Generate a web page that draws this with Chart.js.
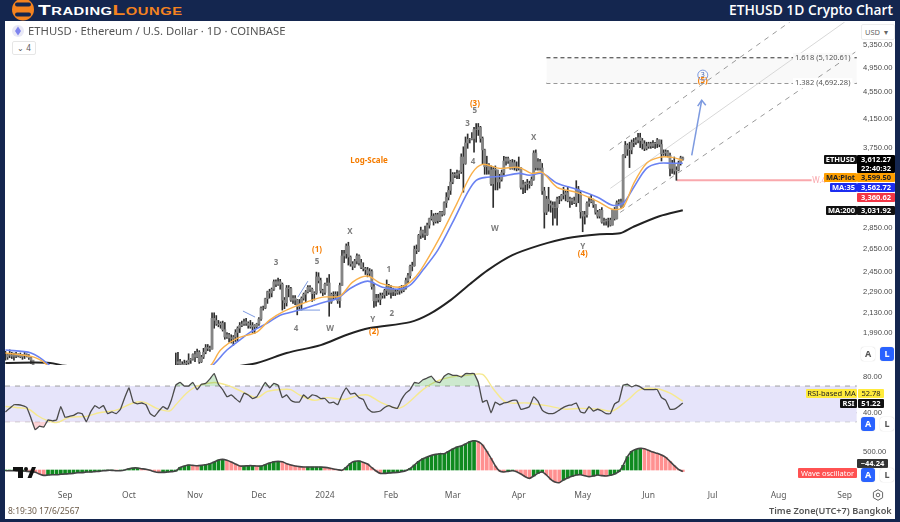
<!DOCTYPE html>
<html>
<head>
<meta charset="utf-8">
<title>ETHUSD 1D Crypto Chart</title>
<script src="https://cdn.jsdelivr.net/npm/chart.js@4/dist/chart.umd.js"></script>
<style>
html, body { margin: 0; padding: 0; }
body { width: 900px; height: 522px; background: #14264f; position: relative; overflow: hidden; font-family: "Open Sans", sans-serif; }
#panel { position: absolute; left: 5px; top: 21px; width: 890px; height: 498px; background: #fff; }
canvas { position: absolute; left: 5px; }
#priceCanvas { top: 22px; }
#rsiCanvas { top: 365px; }
#oscCanvas { top: 435px; }
.abs { position: absolute; white-space: nowrap; }
#brand { left: 38px; top: 0; font: bold 15.5px/19px "Liberation Sans", sans-serif; font-variant: small-caps; letter-spacing: .4px; color: #fff; transform: scaleX(1.34); transform-origin: left center; }
#brand span { color: #f5831f; }
#title { right: 7px; top: 0; font: 600 13.8px/20px "Open Sans", sans-serif; color: #fff; }
#symbol { left: 28px; top: 24px; font: 11.3px/14px "Noto Sans", sans-serif; color: #555; }
#folded { left: 12px; top: 41px; width: 22px; height: 12px; border: 1px solid #e6e6e6; border-radius: 2px; font: 8px/12px "Noto Sans", sans-serif; color: #555; text-align: center; background: #fff; }
#usd { left: 861px; top: 24px; width: 32px; height: 14px; border: 1px solid #ececec; border-radius: 2px; font: 7.5px/14px "Noto Sans", sans-serif; color: #666; background: #fff; text-indent: 3px; }
.tag { height: 9px; font: bold 7.5px/9px "Noto Sans", sans-serif; text-align: center; border-radius: 1px; }
.btn { width: 14px; height: 14px; border-radius: 3px; font: bold 9px/14px "Noto Sans", sans-serif; text-align: center; box-shadow: 0 0 1px #bbb; background: #fff; color: #555; }
.btn.on { background: #2962ff; color: #fff; }
#stamp { left: 8px; top: 504px; font: 8.5px/14px "Noto Sans", sans-serif; color: #6b5a48; }
#zone { left: 769px; top: 504px; font: 600 9.2px/14px "Noto Sans", sans-serif; color: #555; }
</style>
</head>
<body>
<div id="panel"></div>
<canvas id="priceCanvas" width="890" height="343"></canvas>
<canvas id="rsiCanvas" width="890" height="70"></canvas>
<canvas id="oscCanvas" width="890" height="70"></canvas>

<svg class="abs" style="left:11px;top:-2px" width="24" height="23" viewBox="0 0 24 23">
  <circle cx="12" cy="11.5" r="11" fill="#f5831f"/>
  <rect x="4" y="4.5" width="16" height="4" rx="2" fill="#14264f"/>
  <rect x="4" y="14.5" width="16" height="4" rx="2" fill="#14264f"/>
</svg>
<div class="abs" id="brand">Trading<span>Lounge</span></div>
<div class="abs" id="title">ETHUSD 1D Crypto Chart</div>

<svg class="abs" style="left:12px;top:25px" width="12" height="12" viewBox="0 0 12 12">
  <circle cx="6" cy="6" r="6" fill="#e9e9f6"/>
  <path d="M6 1.5L9 6 6 10.5 3 6z" fill="#7d83ee"/>
</svg>
<div class="abs" id="symbol">ETHUSD · Ethereum / U.S. Dollar · 1D · COINBASE</div>
<div class="abs" id="folded">⌄ 4</div>
<div class="abs" id="usd">USD &nbsp;▾</div>

<div class="abs tag" style="left:824px;top:155px;width:33px;background:#111;color:#fff">ETHUSD</div>
<div class="abs tag" style="left:857px;top:155px;width:38px;height:18px;background:#000;color:#fff">3,612.27<br>22:40:32</div>
<div class="abs tag" style="left:824px;top:173px;width:33px;background:#ffa000;color:#222">MA:Plot</div>
<div class="abs tag" style="left:857px;top:173px;width:38px;background:#ffa000;color:#222">3,599.50</div>
<div class="abs tag" style="left:830px;top:183px;width:27px;background:#1c2df0;color:#fff">MA:35</div>
<div class="abs tag" style="left:857px;top:183px;width:38px;background:#1c2df0;color:#fff">3,562.72</div>
<div class="abs tag" style="left:857px;top:193px;width:38px;background:#f23645;color:#fff">3,360.62</div>
<div class="abs tag" style="left:826px;top:206px;width:31px;background:#111;color:#fff">MA:200</div>
<div class="abs tag" style="left:857px;top:206px;width:38px;background:#111;color:#fff">3,031.92</div>

<div class="abs tag" style="left:806px;top:389px;width:51px;background:#ffeb3b;color:#222;font-weight:normal">RSI-based MA</div>
<div class="abs tag" style="left:858px;top:389px;width:26px;background:#ffeb3b;color:#222;font-weight:normal">52.78</div>
<div class="abs tag" style="left:840px;top:399px;width:17px;background:#111;color:#fff">RSI</div>
<div class="abs tag" style="left:858px;top:399px;width:26px;background:#111;color:#fff">51.22</div>
<div class="abs tag" style="left:857px;top:459px;width:31px;background:#333;color:#fff">−44.24</div>
<div class="abs tag" style="left:798px;top:468px;width:59px;height:10px;line-height:10px;background:#ff5252;color:#fff;font-weight:normal">Wave oscillator</div>

<div class="abs btn" style="left:861px;top:347px">A</div>
<div class="abs btn on" style="left:880px;top:347px">L</div>
<div class="abs btn on" style="left:861px;top:417px">A</div>
<div class="abs btn" style="left:880px;top:417px">L</div>
<div class="abs btn on" style="left:861px;top:468px">A</div>
<div class="abs btn" style="left:880px;top:468px">L</div>

<svg class="abs" style="left:13px;top:467px" width="23" height="11" viewBox="0 0 23 11">
  <path d="M0 0h10v11H5V4H0z" fill="#111"/>
  <circle cx="13" cy="2" r="2" fill="#111"/>
  <path d="M14.5 11L19 0h4l-4.5 11z" fill="#111"/>
</svg>
<svg class="abs" style="left:872px;top:489px" width="12" height="12" viewBox="0 0 12 12">
  <path d="M6 .7L10.6 3.3V8.7L6 11.3 1.4 8.7V3.3z" fill="none" stroke="#666" stroke-width="1"/>
  <circle cx="6" cy="6" r="1.8" fill="none" stroke="#666" stroke-width="1"/>
</svg>
<div class="abs" id="stamp">8:19:30 17/6/2567</div>
<div class="abs" id="zone">Time Zone(UTC+7) Bangkok</div>

<script>
// x is counted in days from 1 Sep 2023
const axisFirstDay = -28.2;
const axisLastDay = 373.2;
const monthDays = [0, 30, 61, 91, 122, 153, 182, 213, 243, 274, 304, 335, 366];
const monthLabels = ['Sep', 'Oct', 'Nov', 'Dec', '2024', 'Feb', 'Mar', 'Apr', 'May', 'Jun', 'Jul', 'Aug', 'Sep'];
const priceTicks = [5350, 4950, 4550, 4150, 3750, 2850, 2650, 2450, 2290, 2130, 1990];
const rsiTicks = [80, 40];
const oscTicks = [500];

// daily bars at the far left, before price leaves the pane
const earlyFirstDay = -28;
const earlyHigh = [1865, 1850, 1875, 1860, 1855, 1860, 1850, 1855, 1845, 1865, 1850, 1845, 1830, 1760];
const earlyLow = [1810, 1815, 1825, 1820, 1810, 1825, 1830, 1825, 1815, 1820, 1830, 1815, 1790, 1680];
const earlyClose = [1830, 1845, 1840, 1835, 1840, 1835, 1845, 1830, 1840, 1845, 1835, 1825, 1810, 1690];

// daily bars from 23 Oct 2023 to 17 Jun 2024
const barFirstDay = 52;
const barHigh = [
  1855, 1860, 1815, 1800, 1810, 1805, 1850, 1820, 1850, 1865,
  1880, 1870, 1840, 1885, 1910, 1910, 1900, 2130, 2130, 2110,
  2075, 2065, 2070, 2060, 1990, 1985, 1975, 1970, 2010, 2030,
  2060, 2070, 2085, 2090, 2065, 2075, 2060, 2045, 2055, 2095,
  2175, 2180, 2240, 2295, 2310, 2320, 2385, 2385, 2400, 2390,
  2360, 2245, 2340, 2340, 2325, 2260, 2260, 2230, 2230, 2250,
  2280, 2300, 2340, 2340, 2320, 2290, 2450, 2445, 2400, 2310,
  2360, 2400, 2430, 2280, 2290, 2290, 2290, 2360, 2640, 2640,
  2700, 2715, 2590, 2540, 2560, 2610, 2600, 2560, 2530, 2490,
  2490, 2480, 2470, 2350, 2270, 2270, 2280, 2280, 2310, 2385,
  2350, 2340, 2320, 2310, 2310, 2330, 2340, 2340, 2400, 2440,
  2510, 2535, 2680, 2690, 2790, 2860, 2830, 2870, 2900, 2950,
  3030, 2995, 3000, 3000, 3020, 3020, 3120, 3220, 3290, 3490,
  3450, 3450, 3480, 3470, 3680, 3770, 3900, 3940, 3880, 3960,
  4030, 4085, 4085, 4045, 3900, 3740, 3650, 3560, 3530, 3510,
  3530, 3480, 3430, 3480, 3650, 3640, 3640, 3600, 3610, 3600,
  3580, 3640, 3510, 3360, 3340, 3370, 3350, 3400, 3720, 3730,
  3620, 3610, 3560, 3280, 3180, 3280, 3130, 3120, 3120, 3170,
  3180, 3200, 3280, 3240, 3290, 3170, 3160, 3170, 3355, 3290,
  3230, 3020, 3020, 3120, 3170, 3200, 3150, 3090, 3030, 3040,
  3060, 2950, 2940, 2950, 2950, 3040, 3060, 3130, 3145, 3150,
  3670, 3840, 3810, 3830, 3860, 3880, 3890, 3950, 3950, 3880,
  3850, 3830, 3830, 3830, 3850, 3830, 3880, 3860, 3860, 3730,
  3730, 3720, 3690, 3600, 3640, 3520, 3590, 3650, 3640
];
const barLow = [
  1700, 1770, 1780, 1760, 1775, 1775, 1785, 1790, 1810, 1800,
  1825, 1790, 1795, 1820, 1850, 1870, 1865, 1880, 2020, 2040,
  2030, 2020, 2000, 1945, 1950, 1925, 1920, 1905, 1930, 1930,
  1990, 2030, 2040, 2040, 2020, 2020, 1990, 1985, 2020, 2040,
  2075, 2150, 2160, 2200, 2240, 2250, 2300, 2330, 2340, 2310,
  2150, 2160, 2180, 2250, 2215, 2200, 2190, 2115, 2150, 2150,
  2225, 2210, 2280, 2290, 2215, 2225, 2270, 2360, 2280, 2260,
  2270, 2340, 2105, 2200, 2230, 2230, 2200, 2170, 2340, 2530,
  2570, 2510, 2500, 2470, 2490, 2520, 2510, 2480, 2460, 2430,
  2410, 2420, 2310, 2170, 2180, 2210, 2190, 2240, 2240, 2260,
  2270, 2240, 2260, 2260, 2270, 2270, 2280, 2290, 2310, 2360,
  2400, 2460, 2500, 2610, 2630, 2750, 2760, 2740, 2780, 2850,
  2930, 2880, 2900, 2900, 2915, 2970, 2980, 3060, 3140, 3200,
  3320, 3390, 3380, 3380, 3440, 3225, 3550, 3750, 3820, 3860,
  3700, 3830, 3920, 3830, 3550, 3430, 3430, 3430, 3300, 3060,
  3250, 3250, 3270, 3350, 3420, 3540, 3560, 3490, 3490, 3480,
  3470, 3480, 3260, 3210, 3220, 3250, 3270, 3300, 3360, 3480,
  3480, 3480, 3200, 2850, 2985, 3020, 3010, 2880, 2950, 2880,
  3100, 3130, 3150, 3130, 3120, 3060, 3090, 3100, 3070, 3110,
  2950, 2815, 2890, 2960, 3070, 3110, 3060, 2990, 2950, 2950,
  2900, 2880, 2880, 2860, 2870, 2880, 2930, 2940, 3090, 3060,
  3060, 3630, 3660, 3510, 3680, 3770, 3800, 3820, 3760, 3740,
  3720, 3730, 3750, 3750, 3760, 3750, 3760, 3770, 3590, 3660,
  3650, 3640, 3410, 3440, 3430, 3360, 3470, 3540, 3600
];
const barClose = [
  1790, 1800, 1785, 1780, 1790, 1795, 1810, 1815, 1845, 1830,
  1860, 1800, 1830, 1860, 1890, 1885, 1880, 2090, 2075, 2050,
  2045, 2055, 2010, 1960, 1975, 1955, 1950, 1960, 1990, 2020,
  2040, 2050, 2065, 2055, 2040, 2030, 2040, 2030, 2050, 2085,
  2165, 2165, 2235, 2290, 2280, 2310, 2370, 2350, 2370, 2350,
  2225, 2205, 2320, 2315, 2225, 2240, 2225, 2175, 2200, 2240,
  2270, 2290, 2325, 2310, 2275, 2280, 2410, 2380, 2300, 2285,
  2350, 2360, 2210, 2270, 2270, 2250, 2220, 2340, 2590, 2610,
  2680, 2580, 2520, 2500, 2545, 2590, 2530, 2490, 2480, 2470,
  2440, 2455, 2330, 2220, 2240, 2230, 2260, 2265, 2300, 2330,
  2285, 2310, 2290, 2280, 2295, 2310, 2300, 2320, 2380, 2420,
  2500, 2505, 2650, 2640, 2780, 2825, 2800, 2785, 2880, 2945,
  2970, 2915, 2985, 2925, 3010, 2990, 3110, 3170, 3245, 3340,
  3430, 3420, 3440, 3460, 3640, 3560, 3820, 3870, 3870, 3880,
  4000, 4000, 4030, 3880, 3730, 3520, 3530, 3480, 3320, 3490,
  3480, 3340, 3370, 3450, 3590, 3620, 3590, 3500, 3570, 3510,
  3500, 3505, 3280, 3310, 3330, 3320, 3310, 3370, 3690, 3510,
  3580, 3505, 3240, 3010, 3150, 3100, 3085, 3060, 3060, 3150,
  3150, 3190, 3200, 3220, 3130, 3150, 3130, 3110, 3260, 3210,
  3015, 2970, 2985, 3105, 3120, 3135, 3090, 3010, 2970, 3030,
  2910, 2920, 2930, 2930, 2880, 3030, 2945, 3110, 3120, 3070,
  3660, 3790, 3740, 3730, 3825, 3830, 3860, 3890, 3850, 3810,
  3750, 3775, 3810, 3780, 3815, 3810, 3860, 3800, 3680, 3690,
  3705, 3660, 3500, 3560, 3470, 3480, 3565, 3630, 3612
];

const maPlotDays = [-28, -15, -9, 0, 40, 60, 68.5, 73, 81, 90, 96, 102, 112, 121, 129, 135, 142, 148, 157, 162, 167, 176, 184, 191, 196, 204, 213, 219, 224, 231, 240, 250, 257, 262, 267, 273, 279, 285, 290];
const maPlotValues = [1855, 1830, 1786, 1660, 1590, 1700, 1780, 1874, 1952, 1993, 2077, 2135, 2202, 2248, 2256, 2367, 2417, 2359, 2326, 2367, 2467, 2763, 3104, 3441, 3549, 3501, 3513, 3441, 3453, 3280, 3224, 3126, 3041, 3062, 3326, 3562, 3636, 3636, 3599];
const ma35Days = [-28, -16, -8, 0, 40, 60, 69, 76, 82, 87, 95, 101, 110, 120, 128, 134, 142, 149, 157, 162, 168, 175, 182, 189, 193, 198, 205, 213, 218, 224, 231, 240, 250, 257, 262, 267, 273, 279, 285, 290];
const ma35Values = [1874, 1855, 1786, 1680, 1600, 1700, 1775, 1874, 1939, 1993, 2056, 2113, 2150, 2202, 2240, 2318, 2375, 2326, 2311, 2342, 2467, 2642, 2909, 3224, 3360, 3395, 3406, 3441, 3418, 3441, 3326, 3258, 3170, 3083, 3105, 3280, 3501, 3562, 3562, 3562];
const ma200Days = [-28, -7, 0, 50, 88, 104, 120, 132, 143, 162, 171, 181, 190, 198.5, 210, 223, 235.5, 251, 260.5, 266.5, 279, 290];
const ma200Values = [1793, 1793, 1775, 1740, 1786, 1855, 1906, 1973, 2021, 2063, 2120, 2225, 2350, 2467, 2597, 2688, 2753, 2791, 2800, 2860, 2969, 3031];

// channel, fib and hand drawn lines
const channelUpperDays = [255.7, 340.2];
const channelUpperValues = [3725, 5791];
const channelMiddleDays = [256, 366];
const channelMiddleValues = [3268, 5791];
const channelLowerDays = [256.7, 371];
const channelLowerValues = [2950, 5222];
const fibDays = [226, 371.7];
const fibLevels = [5120.61, 4692.28];
const fibRatios = ['1.618', '1.382'];
const fibLabelDay = 355.7;
const wLevelDays = [287.2, 350.5];
const wLevelValue = 3360.62;
const arrowShaftDays = [294.2, 298.9];
const arrowShaftValues = [3661, 4425];
const arrowHeadDays = [297, 298.9, 300.8];
const arrowHeadValues = [4335, 4425, 4350];
const sketchDaysA = [83.5, 89.2];
const sketchValuesA = [2143, 2099];
const sketchDaysB = [109.3, 114];
const sketchValuesB = [2248, 2375];
const sketchDaysC = [109.3, 119.7];
const sketchValuesC = [2150, 2150];

const waveTexts = ['(1)', '(2)', '(3)', '(4)', '(5)'];
const waveDays = [118.3, 145, 192.4, 243, 299.4];
const wavePrices = [2642, 1993, 4366, 2606, 4725];
const subWaveTexts = ['3', '5', 'X', '1', '4', 'W', 'Y', '2', '5', '3', '4', 'W', 'X', 'Y'];
const subWaveDays = [99, 118.3, 133.7, 152, 108.4, 124.4, 144.5, 153.4, 192.4, 189, 191.5, 201.8, 220, 243];
const subWavePrices = [2527, 2535, 2811, 2467, 2020, 2014, 2077, 2123, 4262, 4076, 3581, 2840, 3896, 2670];
const circledDay = 299.4;
const circledPrice = 4824;
const circledText = '3';
const scaleNoteDay = 142.7;
const scaleNotePrice = 3599;

// RSI and wave oscillator, one reading every two days from the left edge
const seriesFirstDay = -28;
const seriesStep = 2;
const rsiValues = [
  41, 45, 49, 49, 48, 46, 34, 21, 25, 24, 32, 31, 32, 47, 35, 36, 37, 40, 39, 30,
  41, 48, 45, 48, 39, 41, 39, 44, 57, 68, 52, 50, 51, 49, 39, 36, 42, 47, 44, 55,
  71, 74, 70, 70, 74, 66, 72, 73, 78, 84, 72, 66, 58, 60, 56, 52, 62, 60, 56, 58,
  66, 74, 68, 73, 71, 57, 60, 54, 52, 52, 60, 56, 60, 59, 56, 56, 51, 52, 49, 60,
  68, 61, 62, 57, 55, 45, 41, 41, 42, 46, 48, 46, 45, 55, 62, 66, 74, 73, 77, 79,
  81, 75, 74, 81, 84, 82, 82, 80, 84, 84, 84, 74, 52, 54, 40, 52, 49, 51, 52, 54,
  54, 44, 45, 47, 58, 53, 43, 40, 39, 40, 43, 46, 48, 49, 51, 41, 40, 47, 42, 44,
  42, 39, 39, 50, 53, 71, 72, 69, 71, 69, 66, 66, 66, 66, 57, 54, 44, 44, 47, 51
];
const rsiMaDays = [-28, -23, -17, -13, -9, -4, 2, 10, 16, 24, 32, 37, 43, 49, 52, 57, 62, 70, 76, 82, 90, 95, 101, 106, 110, 117, 123, 131, 137, 142, 148, 156, 160, 168, 174, 181, 189, 196, 201, 207, 217, 226, 235, 242, 251, 257, 264, 270, 278, 284, 290];
const rsiMaValues = [47, 46, 44, 37, 32, 29, 35, 36, 40, 43, 51, 52, 45, 42, 49, 62, 70, 74, 71, 65, 57, 64, 66, 66, 60, 54, 57, 55, 59, 60, 52, 45, 49, 66, 75, 80, 82, 83, 67, 52, 51, 48, 44, 45, 44, 42, 54, 66, 67, 62, 53];
const rsiLevels = [70, 60, 50, 40, 30];
const rsiBandDays = [-28.2, 371.7];
const oscValues = [
  -19, -19, -19, -28, -28, -37, -46, -65, -111, -148, -139, -130, -130, -120, -111, -102, -93, -74, -74, -56,
  -56, -46, -37, -19, -9, -9, -19, -19, 0, 37, 56, 56, 37, 19, -9, -46, -65, -65, -56, -46,
  -28, 74, 111, 139, 130, 120, 130, 148, 176, 222, 278, 296, 269, 222, 167, 111, 111, 120, 120, 111,
  111, 148, 194, 232, 241, 232, 176, 139, 111, 93, 83, 83, 83, 83, 83, 74, 56, 28, 9, -9,
  74, 185, 241, 250, 213, 167, 65, -28, -93, -93, -83, -74, -65, -46, -19, 46, 139, 241, 315, 361,
  407, 435, 454, 454, 519, 583, 639, 667, 722, 787, 815, 787, 695, 519, 324, 111, -28, -56, -37, -19,
  -46, -111, -185, -232, -167, -93, -56, -139, -259, -333, -352, -278, -222, -176, -139, -130, -157, -185, -167, -139,
  -157, -167, -148, -111, -46, 130, 370, 519, 574, 602, 593, 546, 500, 463, 417, 352, 241, 120, 19, -44
];

const colors = {
  wick: '#2e2e2e',
  body: '#858585',
  maPlot: '#f9b04a',
  ma35: '#6a82f2',
  ma200: '#222222',
  drawing: '#7d9ae0',
  channel: '#9a9a9a',
  channelMid: '#d8d8d8',
  fib: '#333333',
  fibBand: '#f9f9f9',
  wLevel: '#f9a8ad',
  orange: '#f57c00',
  gray: '#7c7c7c',
  tick: '#4a4a4a',
  rsi: '#4a4a4a',
  rsiMa: '#f6e98f',
  band: '#e6e4fa',
  level: '#a0a0a0',
  rising: '#0f8a1f',
  falling: '#ff9090',
  osc: '#444444'
};

function points(days, values) {
  return days.map((d, i) => ({ x: d, y: values[i] }));
}

function seriesPoints(values) {
  return values.map((v, i) => ({ x: seriesFirstDay + i * seriesStep, y: v }));
}

function rangeBars(firstDay, lows, highs) {
  return lows.map((l, i) => ({ x: firstDay + i, y: [l, highs[i]] }));
}

// a bar opens where the bar before it closed
function bodyBars(firstDay, closes) {
  return closes.slice(1).map((c, i) => ({ x: firstDay + i + 1, y: [closes[i], c] }));
}

function lineSet(data, color, width, order, extra) {
  return Object.assign({
    type: 'line', data: data, borderColor: color, borderWidth: width,
    pointRadius: 0, tension: 0, fill: false, order: order
  }, extra || {});
}

function sharedX(showLabels) {
  return {
    type: 'linear', min: axisFirstDay, max: axisLastDay, offset: false,
    display: showLabels,
    grid: { display: false, drawTicks: false }, border: { display: false },
    afterBuildTicks: (scale) => { scale.ticks = monthDays.map(d => ({ value: d })); },
    afterFit: (scale) => {
      scale.paddingLeft = 0;
      scale.paddingRight = 0;
      if (showLabels) scale.height = 17;
    },
    ticks: {
      autoSkip: false, maxRotation: 0, padding: 2, color: '#5a5a5a',
      font: { family: 'Noto Sans', size: 8.5 },
      callback: (v) => monthLabels[monthDays.indexOf(v)]
    }
  };
}

function sharedY(tickList, min, max, type) {
  return {
    type: type, position: 'right', min: min, max: max,
    grid: { display: false, drawTicks: false }, border: { display: false },
    afterBuildTicks: (scale) => { scale.ticks = tickList.map(v => ({ value: v })); },
    // panes are butted together, so no room is kept for the outer tick labels
    afterFit: (scale) => {
      scale.width = 35;
      scale.paddingTop = 0;
      scale.paddingBottom = 0;
    },
    ticks: {
      autoSkip: false, padding: 3, color: colors.tick,
      font: { family: 'Liberation Sans', size: 7.6 },
      callback: (v) => v.toLocaleString('en-US', { minimumFractionDigits: 2, maximumFractionDigits: 2 })
    }
  };
}

const baseOptions = {
  responsive: false,
  animation: false,
  events: [],
  layout: { padding: 0 },
  plugins: { legend: { display: false }, tooltip: { enabled: false } }
};

// wave counts and fib captions sit on the price scale
const priceTextPlugin = {
  id: 'priceText',
  afterDatasetsDraw(chart) {
    const { ctx, scales } = chart;
    const px = (d) => scales.x.getPixelForValue(d);
    const py = (p) => scales.y.getPixelForValue(p);
    ctx.save();
    ctx.textAlign = 'center';
    ctx.textBaseline = 'middle';

    ctx.font = 'bold 8px "Noto Sans"';
    ctx.fillStyle = colors.gray;
    subWaveTexts.forEach((t, i) => ctx.fillText(t, px(subWaveDays[i]), py(subWavePrices[i])));

    ctx.fillStyle = colors.orange;
    waveTexts.forEach((t, i) => ctx.fillText(t, px(waveDays[i]), py(wavePrices[i])));
    ctx.fillText('Log-Scale', px(scaleNoteDay), py(scaleNotePrice));

    ctx.strokeStyle = colors.drawing;
    ctx.lineWidth = 1;
    ctx.beginPath();
    ctx.arc(px(circledDay), py(circledPrice), 5, 0, Math.PI * 2);
    ctx.stroke();
    ctx.fillStyle = '#3f5fb0';
    ctx.font = '7px "Noto Sans"';
    ctx.fillText(circledText, px(circledDay), py(circledPrice));

    ctx.font = '7.5px "Noto Sans"';
    fibLevels.forEach((level, i) => {
      const text = fibRatios[i] + ' (' + level.toLocaleString('en-US', { minimumFractionDigits: 2 }) + ')';
      const w = ctx.measureText(text).width + 4;
      ctx.fillStyle = i === 0 ? colors.fibBand : '#ffffff';
      ctx.fillRect(px(fibLabelDay) - w / 2, py(level) - 5, w, 10);
      ctx.fillStyle = '#555555';
      ctx.fillText(text, px(fibLabelDay), py(level));
    });

    ctx.fillStyle = colors.wLevel;
    ctx.font = '8px "Noto Sans"';
    ctx.fillText('W.4', px(354), py(wLevelValue));
    ctx.restore();
  }
};

new Chart(document.getElementById('priceCanvas'), {
  type: 'bar',
  data: {
    datasets: [
      lineSet(points(fibDays, [fibLevels[0], fibLevels[0]]), colors.fib, 1, 9,
        { borderDash: [4, 3], fill: '+1', backgroundColor: colors.fibBand }),
      lineSet(points(fibDays, [fibLevels[1], fibLevels[1]]), colors.fib, 1, 9, { borderDash: [4, 3] }),
      lineSet(points(channelUpperDays, channelUpperValues), colors.channel, 1, 8, { borderDash: [5, 5] }),
      lineSet(points(channelMiddleDays, channelMiddleValues), colors.channelMid, 1, 8),
      lineSet(points(channelLowerDays, channelLowerValues), colors.channel, 1, 8, { borderDash: [5, 5] }),
      lineSet(points(wLevelDays, [wLevelValue, wLevelValue]), colors.wLevel, 2, 7),
      { type: 'bar', data: rangeBars(earlyFirstDay, earlyLow, earlyHigh), backgroundColor: colors.wick, barThickness: 1, grouped: false, order: 6 },
      { type: 'bar', data: bodyBars(earlyFirstDay, earlyClose), backgroundColor: colors.body, barThickness: 2, grouped: false, order: 5 },
      { type: 'bar', data: rangeBars(barFirstDay, barLow, barHigh), backgroundColor: colors.wick, barThickness: 1, grouped: false, order: 6 },
      { type: 'bar', data: bodyBars(barFirstDay, barClose), backgroundColor: colors.body, barThickness: 2.2, grouped: false, order: 5 },
      lineSet(points(ma200Days, ma200Values), colors.ma200, 2, 3, { tension: 0.3 }),
      lineSet(points(ma35Days, ma35Values), colors.ma35, 1.6, 2, { tension: 0.3 }),
      lineSet(points(maPlotDays, maPlotValues), colors.maPlot, 1.4, 1, { tension: 0.3 }),
      lineSet(points(arrowShaftDays, arrowShaftValues), colors.drawing, 1.5, 1),
      lineSet(points(arrowHeadDays, arrowHeadValues), colors.drawing, 1.5, 1),
      lineSet(points(sketchDaysA, sketchValuesA), colors.drawing, 1, 1),
      lineSet(points(sketchDaysB, sketchValuesB), colors.drawing, 1, 1),
      lineSet(points(sketchDaysC, sketchValuesC), colors.drawing, 1, 1)
    ]
  },
  options: Object.assign({}, baseOptions, {
    scales: {
      x: sharedX(false),
      y: sharedY(priceTicks, 1780, 5791, 'logarithmic')
    }
  }),
  plugins: [priceTextPlugin]
});

const rsiLevelSets = rsiLevels.map((level, i) => {
  const extra = { borderDash: [5, 5] };
  if (i === 0) {
    extra.fill = { target: { value: rsiLevels[rsiLevels.length - 1] } };
    extra.backgroundColor = colors.band;
  }
  return lineSet(points(rsiBandDays, [level, level]), colors.level, 1, 9, extra);
});

new Chart(document.getElementById('rsiCanvas'), {
  type: 'line',
  data: {
    datasets: [
      lineSet(seriesPoints(rsiValues), colors.rsi, 1.3, 1, {
        tension: 0.1,
        fill: { target: { value: 70 }, above: 'rgba(76, 175, 80, 0.28)', below: 'rgba(0, 0, 0, 0)' }
      }),
      lineSet(seriesPoints(rsiValues), 'rgba(0, 0, 0, 0)', 0, 3, {
        tension: 0.1,
        fill: { target: { value: 30 }, above: 'rgba(0, 0, 0, 0)', below: 'rgba(242, 54, 69, 0.22)' }
      }),
      lineSet(points(rsiMaDays, rsiMaValues), colors.rsiMa, 1.4, 2, { tension: 0.3 })
    ].concat(rsiLevelSets)
  },
  options: Object.assign({}, baseOptions, {
    scales: {
      x: sharedX(false),
      y: sharedY(rsiTicks, 15.1, 93.6, 'linear')
    }
  })
});

// green while the oscillator rises, red while it falls
const oscBarColors = oscValues.map((v, i) => (i > 0 && v < oscValues[i - 1] ? colors.falling : colors.rising));

new Chart(document.getElementById('oscCanvas'), {
  type: 'bar',
  data: {
    datasets: [
      lineSet(seriesPoints(oscValues), colors.osc, 1.6, 1, { tension: 0.2 }),
      { type: 'bar', data: seriesPoints(oscValues), backgroundColor: oscBarColors, barThickness: 3, grouped: false, order: 2 }
    ]
  },
  options: Object.assign({}, baseOptions, {
    scales: {
      x: sharedX(true),
      y: sharedY(oscTicks, -500, 973, 'linear')
    }
  })
});
</script>
</body>
</html>
